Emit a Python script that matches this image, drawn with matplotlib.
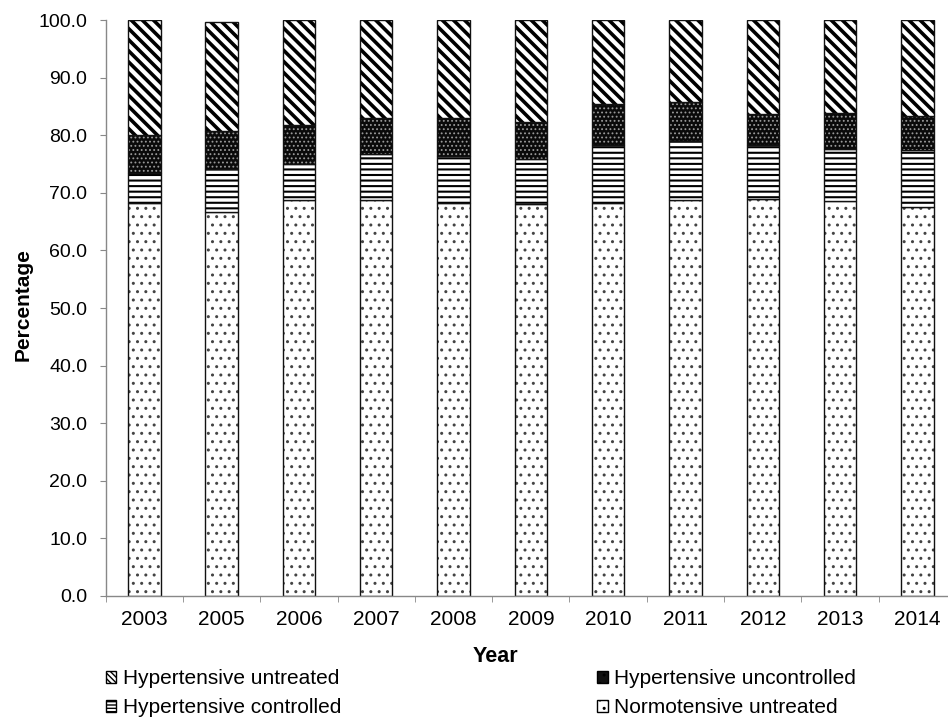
import matplotlib
matplotlib.use("Agg")
import matplotlib.pyplot as plt
import numpy as np
from matplotlib.patches import Patch

years = ["2003", "2005", "2006", "2007", "2008", "2009", "2010", "2011", "2012", "2013", "2014"]
normotensive_untreated = [68.2, 66.6, 68.8, 68.8, 68.3, 68.0, 68.3, 68.7, 68.9, 68.5, 67.5]
hypertensive_controlled = [5.2, 7.5, 6.2, 7.9, 8.1, 7.8, 10.0, 10.3, 9.4, 9.1, 9.9]
hypertensive_uncontrolled = [6.6, 6.6, 6.8, 6.3, 6.6, 6.5, 7.1, 6.8, 5.4, 6.2, 5.9]
hypertensive_untreated = [20.0, 19.0, 18.2, 17.0, 17.0, 17.7, 14.6, 14.2, 16.3, 16.2, 16.7]

plt.rcParams['font.family'] = ['Liberation Sans', 'DejaVu Sans']

W, H = 948, 723
fig = plt.figure(figsize=(W / 100, H / 100), dpi=100)
ax = fig.add_axes([105.7 / W, (H - 596) / H, (956 - 105.7) / W, 576 / H])

x = np.arange(len(years))
w = 0.42
n = np.array(normotensive_untreated)
c = np.array(hypertensive_controlled)
u = np.array(hypertensive_uncontrolled)
t = np.array(hypertensive_untreated)
zero = np.zeros(len(years))

styles = [
    # values, bottom, face, hatch color, hatch, hatch lw
    (n, zero, 'white', '#444444', '..', 1.0),
    (c, n, 'white', 'black', '---', 1.5),
    (u, n + c, '#0a0a0a', '#9a9a9a', '....', 0.8),
    (t, n + c + u, 'white', 'black', '\\\\\\', 2.6),
]
for vals, bot, fc, hc, hatch, hlw in styles:
    with plt.rc_context({'hatch.linewidth': hlw}):
        ax.bar(x, vals, w, bottom=bot, facecolor=fc, edgecolor=hc, hatch=hatch, linewidth=0)
    ax.bar(x, vals, w, bottom=bot, fill=False, edgecolor='#111111', linewidth=1.0)

ax.set_xlim(-0.5, len(years) - 0.5)
ax.set_ylim(0, 100)
yt = np.arange(0, 101, 10)
ax.set_yticks(yt)
ax.set_yticklabels([f"{v:.1f}" for v in yt], fontsize=14)
ax.set_xticks(x)
ax.set_xticklabels(years, fontsize=15)
ax.set_xticks(np.arange(-0.5, len(years), 1), minor=True)
ax.tick_params(axis='x', which='major', length=0, pad=10)
ax.tick_params(axis='x', which='minor', length=4.3, color='#888888', direction='out')
ax.tick_params(axis='y', length=4.3, color='#888888', direction='out', pad=9)

for s in ['top', 'right']:
    ax.spines[s].set_visible(False)
for s in ['left', 'bottom']:
    ax.spines[s].set_color('#888888')
    ax.spines[s].set_linewidth(1.0)

fig.text(23 / W, 1 - 305 / H, "Percentage", rotation=90, fontsize=15, fontweight='bold',
         ha='center', va='center')
fig.text(495 / W, 1 - 656 / H, "Year", fontsize=15.5, fontweight='bold',
         ha='center', va='center')

handles = [
    Patch(facecolor='white', edgecolor='black', hatch='\\\\\\\\\\\\', label='Hypertensive untreated'),
    Patch(facecolor='white', edgecolor='black', hatch='-----', label='Hypertensive controlled'),
    Patch(facecolor='#111111', edgecolor='black', hatch='..', label='Hypertensive uncontrolled'),
    Patch(facecolor='white', edgecolor='black', hatch='..', label='Normotensive untreated'),
]
leg = fig.legend(handles=handles, ncol=2, loc='upper left', bbox_to_anchor=(106 / W, 1 - 669 / H),
                 frameon=False, borderpad=0, borderaxespad=0,
                 handlelength=0.5, handleheight=0.5, handletextpad=0.3,
                 columnspacing=12.3, labelspacing=0.5,
                 prop={'size': 15})

fig.savefig("out.png", dpi=100)
